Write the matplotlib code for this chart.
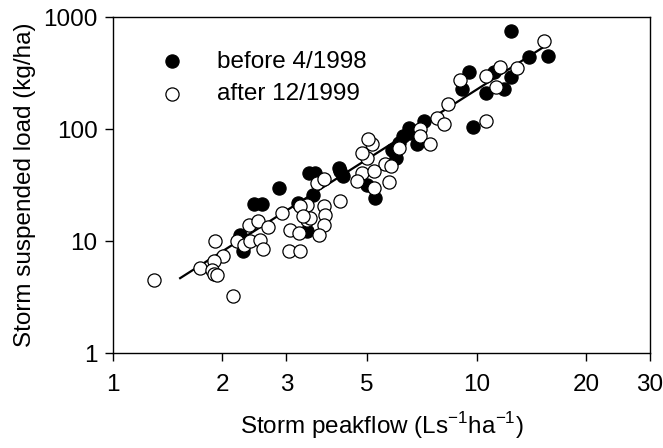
import matplotlib
matplotlib.use("Agg")
import matplotlib.pyplot as plt
from matplotlib.ticker import FixedLocator, FixedFormatter, NullLocator

plt.rcParams['font.family'] = ['Liberation Sans', 'DejaVu Sans']

# before 4/1998 (filled)
before_x = [2.87, 2.44, 2.57, 3.22, 2.24, 2.28, 3.42, 3.45, 3.60, 4.18, 4.22, 4.29,
            3.55, 5.00, 5.27, 5.85, 6.00, 6.28, 6.51, 6.58, 6.87, 6.11, 7.16, 9.10,
            9.52, 9.75, 10.6, 11.2, 11.9, 12.4, 12.4, 13.9, 15.7]
before_y = [29.8, 21.6, 21.6, 22.0, 11.4, 8.1, 12.4, 40.6, 40.6, 45.0, 42.0, 37.9,
            26.0, 31.9, 24.3, 65.0, 55.0, 86.4, 103, 92.7, 72.8, 75.4, 118, 226,
            323, 104, 211, 323, 226, 294, 752, 435, 450]

# after 12/1999 (open)
after_x = [1.30, 1.91, 2.01, 1.90, 1.74, 1.87, 1.89, 1.93, 2.14, 2.92, 2.37, 2.50,
           2.67, 2.20, 2.29, 2.38, 2.54, 2.58, 3.07, 3.24, 3.04, 3.26, 3.42, 3.64,
           3.80, 3.42, 3.27, 3.80, 3.49, 3.34, 3.84, 3.80, 3.68, 4.22, 5.16, 5.00,
           4.84, 5.61, 5.80, 4.84, 5.21, 4.69, 5.21, 5.73, 5.02, 6.11, 6.98, 7.00,
           7.44, 7.79, 8.13, 8.34, 9.00, 10.6, 10.6, 11.3, 11.6, 12.9, 15.3]
after_y = [4.5, 9.9, 7.3, 6.6, 5.7, 5.5, 5.1, 5.0, 3.2, 17.8, 14.0, 15.0,
           13.3, 9.9, 9.3, 10.1, 10.2, 8.4, 12.5, 11.9, 8.1, 8.1, 15.5, 33.0,
           35.9, 21.1, 20.4, 20.4, 16.1, 16.6, 17.2, 14.0, 11.4, 22.9, 72.8, 55.3,
           61.3, 48.2, 46.5, 40.6, 42.0, 34.2, 29.8, 33.5, 80.7, 68.0, 99.2, 86.0,
           72.8, 126, 110, 166, 274, 298, 118, 239, 361, 354, 612]

# regression line end points
fit_x = [1.53, 15.3]
fit_y = [4.66, 540]

x_ticks = [1, 2, 3, 5, 10, 20, 30]
x_tick_labels = ['1', '2', '3', '5', '10', '20', '30']
y_ticks = [1, 10, 100, 1000]
y_tick_labels = ['1', '10', '100', '1000']

FS = 17.5

fig = plt.figure(figsize=(6.63, 4.48), dpi=100)
ax = fig.add_axes([113/663, 1-353/448, 537/663, 336/448])

ax.plot(fit_x, fit_y, color='black', lw=1.6, zorder=2)
ax.scatter(before_x, before_y, s=90, facecolor='black', edgecolor='black',
           linewidths=0.9, zorder=3, label='before 4/1998')
ax.scatter(after_x, after_y, s=90, facecolor='white', edgecolor='black',
           linewidths=0.9, zorder=4, label='after 12/1999')

ax.set_xscale('log')
ax.set_yscale('log')
ax.set_xlim(1, 30)
ax.set_ylim(1, 1000)
ax.xaxis.set_major_locator(FixedLocator(x_ticks))
ax.xaxis.set_major_formatter(FixedFormatter(x_tick_labels))
ax.xaxis.set_minor_locator(NullLocator())
ax.yaxis.set_major_locator(FixedLocator(y_ticks))
ax.yaxis.set_major_formatter(FixedFormatter(y_tick_labels))
ax.yaxis.set_minor_locator(NullLocator())

ax.tick_params(axis='both', direction='out', length=6, width=1, labelsize=FS)
ax.tick_params(axis='x', pad=9)
ax.tick_params(axis='y', pad=5)
for sp in ax.spines.values():
    sp.set_linewidth(1)

ax.set_xlabel('Storm peakflow (Ls$^{\\mathregular{-1}}$ha$^{\\mathregular{-1}}$)', fontsize=FS, labelpad=10)
ax.set_ylabel('Storm suspended load (kg/ha)', fontsize=FS, labelpad=5)

ax.legend(loc='center left', bbox_to_anchor=((160-113)/537, (353-78)/336),
          frameon=False, fontsize=FS, handlelength=1.0, handletextpad=1.35,
          borderpad=0, borderaxespad=0, labelspacing=0.45, scatterpoints=1)

fig.savefig('out.png', dpi=100)
